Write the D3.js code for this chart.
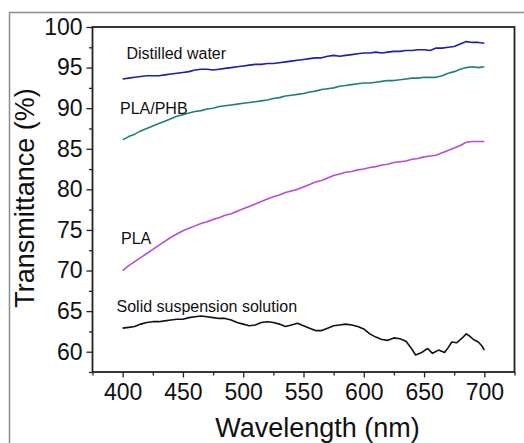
<!DOCTYPE html>
<html><head><meta charset="utf-8">
<script src="https://cdn.jsdelivr.net/npm/d3@7"></script>
<style>html,body{margin:0;padding:0;background:#fff;}svg{display:block;font-family:"Liberation Sans",Arial,sans-serif;}</style>
</head><body>
<svg id="chart" width="524" height="443"></svg>
<script>
const wl5 = d3.range(400, 701, 5);
const distilledWater = [93.6,93.7,93.8,93.9,94.0,94.0,94.0,94.1,94.2,94.3,94.4,94.5,94.7,94.8,94.8,94.7,94.8,94.9,95.0,95.1,95.2,95.3,95.4,95.4,95.5,95.5,95.6,95.7,95.8,95.9,96.0,96.1,96.2,96.2,96.4,96.5,96.4,96.5,96.6,96.7,96.8,96.8,96.9,96.8,96.9,97.0,97.0,97.1,97.1,97.2,97.2,97.1,97.4,97.4,97.5,97.6,97.9,98.2,98.1,98.1,98.0];
const plaPhb = [86.1,86.5,86.8,87.2,87.5,87.8,88.1,88.4,88.7,89.0,89.2,89.4,89.6,89.7,89.9,90.0,90.2,90.3,90.4,90.5,90.6,90.7,90.8,90.9,91.0,91.2,91.3,91.5,91.6,91.7,91.8,92.0,92.1,92.3,92.4,92.5,92.7,92.8,92.9,93.0,93.1,93.1,93.2,93.3,93.4,93.4,93.5,93.6,93.7,93.7,93.8,93.8,93.8,94.0,94.3,94.5,94.8,95.0,95.1,95.0,95.1];
const pla = [70.0,70.6,71.1,71.6,72.1,72.6,73.1,73.6,74.1,74.5,74.9,75.2,75.5,75.8,76.0,76.3,76.5,76.8,77.0,77.3,77.6,77.9,78.2,78.5,78.8,79.1,79.3,79.6,79.8,80.0,80.3,80.6,80.9,81.1,81.4,81.7,81.9,82.1,82.2,82.4,82.5,82.7,82.8,83.0,83.1,83.3,83.4,83.5,83.7,83.8,84.0,84.1,84.2,84.5,84.8,85.1,85.4,85.8,85.9,85.9,85.9];
const solidWl = [400,405,410,415,420,425,430,435,440,445,450,455,460,465,470,475,480,485,490,495,500,505,510,515,520,525,530,535,540,545,550,555,560,565,570,575,580,585,590,595,600,605,610,615,620,625,630,635,640,643,648,653,657,662,667,670,673,677,681,685,688,691,695,698,700];
const solid = [62.9,63.0,63.1,63.4,63.6,63.7,63.7,63.8,63.9,64.0,64.0,64.2,64.3,64.4,64.3,64.2,64.1,64.1,63.9,63.6,63.4,63.2,63.3,63.6,63.7,63.6,63.4,63.1,63.3,63.5,63.2,62.9,62.6,62.6,62.9,63.2,63.3,63.4,63.3,63.1,62.8,62.2,61.8,61.5,61.4,61.7,61.6,61.3,60.3,59.6,59.9,60.4,59.8,60.2,59.9,60.5,61.2,61.1,61.6,62.2,61.9,61.5,61.2,60.7,60.2];
const xMajor = [400,450,500,550,600,650,700];
const xMinor = [375,425,475,525,575,625,675,725];
const yMajor = [60,65,70,75,80,85,90,95,100];
const yMinor = [57.5,62.5,67.5,72.5,77.5,82.5,87.5,92.5,97.5];
const seriesNames = ["Distilled water","PLA/PHB","PLA","Solid suspension solution"];

const svg = d3.select("#chart");
const L = 92.5, R = 514.5, T = 27, B = 372;
const x = d3.scaleLinear().domain([375, 725]).range([L, R]);
const y = d3.scaleLinear().domain([57.5, 100]).range([B, T]);

// outer frame
svg.append("path").attr("d", `M9.5,443 L9.5,12.5 L524,12.5`).attr("fill","none").attr("stroke","#8c8c8c").attr("stroke-width",1.5);

const series = [
  {name: seriesNames[0], xs: wl5, ys: distilledWater, color: "#1e1eaa", lx: 126.5, ly: 58.5},
  {name: seriesNames[1], xs: wl5, ys: plaPhb, color: "#1d7f7a", lx: 120, ly: 113.5},
  {name: seriesNames[2], xs: wl5, ys: pla, color: "#b64cdb", lx: 121, ly: 243.5},
  {name: seriesNames[3], xs: solidWl, ys: solid, color: "#111111", lx: 116.5, ly: 311.5}
];
const line = d3.line().x(d => x(d[0])).y(d => y(d[1]));
series.forEach(s => {
  svg.append("path").datum(s.xs.map((w,i)=>[w, s.ys[i]]))
    .attr("d", line).attr("fill","none").attr("stroke", s.color).attr("stroke-width",1.6).attr("stroke-linejoin","round");
  svg.append("text").attr("x", s.lx).attr("y", s.ly).attr("font-size", 16).attr("fill","#111").text(s.name);
});

// axes
const gx = svg.append("g").attr("transform", `translate(0,${B})`);
gx.call(d3.axisBottom(x).tickValues(xMajor).tickSize(5.5).tickPadding(6).tickFormat(d3.format("d")));
const gxm = svg.append("g").attr("transform", `translate(0,${B})`);
gxm.call(d3.axisBottom(x).tickValues(xMinor).tickSize(3.5).tickFormat(""));
const gy = svg.append("g").attr("transform", `translate(${L},0)`);
gy.call(d3.axisLeft(y).tickValues(yMajor).tickSize(6).tickPadding(4).tickFormat(d3.format("d")));
const gym = svg.append("g").attr("transform", `translate(${L},0)`);
gym.call(d3.axisLeft(y).tickValues(yMinor).tickSize(3.5).tickFormat(""));
[gx,gxm,gy,gym].forEach(g => {
  g.select(".domain").remove();
  g.selectAll(".tick line").attr("stroke","#222").attr("stroke-width",1.3);
  g.selectAll(".tick text").attr("font-size",23).attr("fill","#111").attr("font-family","'Liberation Sans',Arial,sans-serif");
});
gx.selectAll(".tick text").attr("dy","0.71em");

// plot frame
svg.append("rect").attr("x", L).attr("y", T).attr("width", R-L).attr("height", B-T)
  .attr("fill","none").attr("stroke","#222").attr("stroke-width",1.8);

// titles
svg.append("text").attr("x", (L+R)/2 + 14).attr("y", 437).attr("text-anchor","middle")
  .attr("font-size",27).attr("fill","#111").text("Wavelength (nm)");
svg.append("text").attr("transform", `translate(33.5,198) rotate(-90)`).attr("text-anchor","middle")
  .attr("font-size",27).attr("fill","#111").text("Transmittance (%)");
</script>
</body></html>
